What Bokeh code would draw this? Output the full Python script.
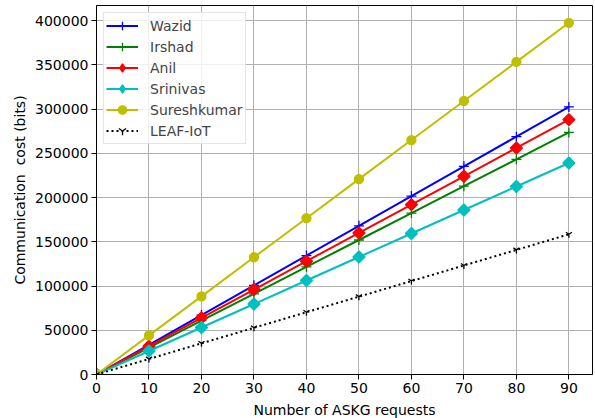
import numpy as np
from bokeh.plotting import figure
from bokeh.models import Range1d, FixedTicker, PrintfTickFormatter, Legend, LegendItem
from bokeh.embed import file_html
from bokeh.resources import INLINE

requests = [0, 10, 20, 30, 40, 50, 60, 70, 80, 90]
wazid = [0, 33600, 67200, 100800, 134400, 168000, 201600, 235200, 268800, 302400]
irshad = [0, 30400, 60800, 91200, 121600, 152000, 182400, 212800, 243200, 273600]
anil = [0, 32000, 64000, 96000, 128000, 160000, 192000, 224000, 256000, 288000]
srinivas = [0, 26560, 53120, 79680, 106240, 132800, 159360, 185920, 212480, 239040]
sureshkumar = [0, 44160, 88320, 132480, 176640, 220800, 264960, 309120, 353280, 397440]
leaf_iot = [0, 17600, 35200, 52800, 70400, 88000, 105600, 123200, 140800, 158400]

x_ticks = [0, 10, 20, 30, 40, 50, 60, 70, 80, 90]
y_ticks = [0, 50000, 100000, 150000, 200000, 250000, 300000, 350000, 400000]

FONT = "DejaVu Sans"
FS = "14px"

p = figure(width=595, height=418, output_backend="svg", toolbar_location=None,
           x_range=Range1d(0, 94.5), y_range=Range1d(0, 417000),
           min_border_left=96, min_border_right=3, min_border_top=5, min_border_bottom=44)
p.frame_width = 496
p.frame_height = 369

p.outline_line_color = "black"
p.outline_line_width = 1
p.background_fill_color = "white"
p.border_fill_color = "white"

for ax in (p.xaxis[0], p.yaxis[0]):
    ax.axis_line_color = "black"
    ax.major_tick_line_color = "black"
    ax.major_tick_out = 5
    ax.major_tick_in = 0
    ax.minor_tick_line_color = None
    ax.major_label_standoff = 3
    ax.major_label_text_font = FONT
    ax.major_label_text_font_size = FS
    ax.major_label_text_color = "black"
    ax.axis_label_text_font = FONT
    ax.axis_label_text_font_size = FS
    ax.axis_label_text_font_style = "normal"
    ax.axis_label_text_color = "black"

p.xaxis[0].ticker = FixedTicker(ticks=x_ticks)
p.yaxis[0].ticker = FixedTicker(ticks=y_ticks)
p.yaxis[0].formatter = PrintfTickFormatter(format="%d")
p.xaxis[0].axis_label = "Number of ASKG requests"
p.yaxis[0].axis_label = "Communication\u00a0 cost (bits)"
p.xaxis[0].axis_label_standoff = 6
p.yaxis[0].axis_label_standoff = 4

p.grid.grid_line_color = "#b0b0b0"
p.grid.grid_line_width = 1

items = []
series = [
    ("Wazid", wazid, "#0000ff", "cross", 10, 0, "solid", None),
    ("Irshad", irshad, "#008000", "cross", 10, 0, "solid", None),
    ("Anil", anil, "#ff0000", "square", 8.5, np.pi / 4, "solid", "diamond"),
    ("Srinivas", srinivas, "#00bfbf", "square", 8.5, np.pi / 4, "solid", "diamond"),
    ("Sureshkumar", sureshkumar, "#bfbf00", "circle", 9, 0, "solid", None),
    ("LEAF-IoT", leaf_iot, "black", "y", 7, 0, "2 3", None),
]
for name, ys, color, marker, size, angle, dash, legend_marker in series:
    r1 = p.line(requests, ys, line_color=color, line_width=2, line_dash=dash)
    r2 = p.scatter(requests, ys, marker=marker, size=size, angle=angle,
                   fill_color=color, line_color=color, line_width=1.3)
    rends = [r1, r2]
    if legend_marker is not None:
        r3 = p.scatter(requests, ys, marker=legend_marker, size=size,
                       fill_color=color, line_color=color, line_width=1.3)
        r3.visible = False
        rends = [r1, r3]
    items.append(LegendItem(label=name, renderers=rends))

legend = Legend(items=items, location="top_left")
legend.click_policy = "none"
legend.margin = 7
legend.padding = 2
legend.spacing = 0
legend.glyph_height = 21
legend.label_height = 21
legend.glyph_width = 32
legend.label_standoff = 12
legend.label_text_font = FONT
legend.label_text_font_size = FS
legend.border_line_color = "#cccccc"
legend.border_line_width = 1
legend.background_fill_alpha = 0.8
p.add_layout(legend)

open("out.html", "w").write(file_html(p, INLINE))
